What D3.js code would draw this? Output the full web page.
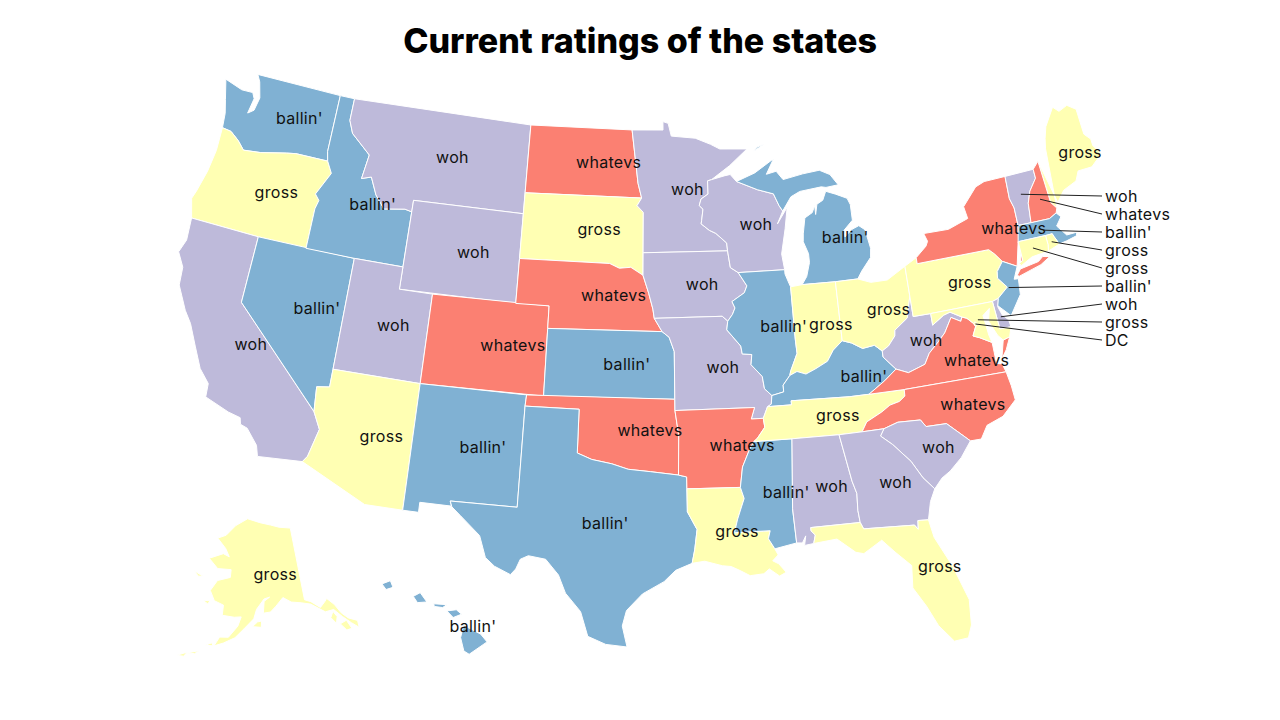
<!DOCTYPE html>
<html>
<head>
<meta charset="utf-8">
<script src="https://cdn.jsdelivr.net/npm/d3@7"></script>
<style>
  html, body { margin: 0; background: #fff; }
  text { font-family: Inter, "Open Sans", sans-serif; fill: #111; }
</style>
</head>
<body>
<div id="chart"></div>
<script>
// ratings
const stateIds = ["WA","OR","CA","NV","ID","MT","WY","UT","AZ","CO","NM","ND","SD","NE","KS","OK","TX","MN","IA","MO","AR","LA","WI","IL","MS","MI","IN","KY","TN","AL","OH","WV","VA","NC","SC","GA","FL","PA","NY","ME","AK","HI","VT","NH","MA","RI","CT","NJ","DE","MD","DC"];
const stateRatings = ["ballin'","gross","woh","ballin'","ballin'","woh","woh","woh","gross","whatevs","ballin'","whatevs","gross","whatevs","ballin'","whatevs","ballin'","woh","woh","woh","whatevs","gross","woh","ballin'","ballin'","ballin'","gross","ballin'","gross","woh","gross","woh","whatevs","whatevs","woh","woh","gross","gross","whatevs","gross","gross","ballin'","woh","whatevs","ballin'","gross","gross","ballin'","woh","gross","gross"];
const ratingNames = ["ballin'","gross","woh","whatevs"];
const ratingColors = ["#80b1d3","#ffffb3","#bebada","#fb8072"];
// states too small for a label inside, labelled in a column on the right
const calloutStates = ["VT","NH","MA","RI","CT","NJ","DE","MD","DC"];
const calloutLabels = ["woh","whatevs","ballin'","gross","gross","ballin'","woh","gross","DC"];

// shared borders, lon/lat
const mnWi = [[-92.02,46.71],[-92.29,46.66],[-92.29,46.07],[-92.75,45.86],[-92.88,45.57],[-92.65,45.4],[-92.76,44.9],[-92.8,44.75],[-92.3,44.45],[-91.9,44.3],[-91.25,43.85],[-91.22,43.5]];
const iaWi = [[-91.22,43.5],[-91.1,42.75],[-90.64,42.51]];
const iaIl = [[-90.64,42.51],[-90.16,41.9],[-90.34,41.6],[-91.11,41.24],[-90.95,40.95],[-91.12,40.67],[-91.42,40.38]];
const moIl = [[-91.42,40.38],[-91.5,40.0],[-90.73,39.25],[-90.67,38.9],[-90.12,38.85],[-90.2,38.4],[-89.6,37.85],[-89.52,37.3],[-89.13,36.98]];
const kyMo = [[-89.13,36.98],[-89.2,36.6],[-89.42,36.5]];
const tnMo = [[-89.42,36.5],[-89.7,36.0]];
const tnAr = [[-89.7,36.0],[-89.65,35.6],[-90.1,35.13],[-90.3,35.0]];
const msAr = [[-90.3,35.0],[-90.6,34.6],[-91.0,33.9],[-91.17,33.0]];
const laMs = [[-91.17,33.0],[-91.0,32.5],[-91.4,31.6],[-91.6,31.0],[-89.73,31.0],[-89.85,30.65],[-89.55,30.18]];
const ilKy = [[-89.13,36.98],[-88.45,37.1],[-88.45,37.4],[-88.03,37.8]];
const inIl = [[-87.53,41.71],[-87.53,39.35],[-87.5,38.75],[-87.95,38.0],[-88.03,37.8]];
const inKy = [[-88.03,37.8],[-87.6,37.95],[-87.1,37.8],[-86.5,38.0],[-85.8,38.27],[-85.4,38.73],[-84.82,39.1]];
const ohKy = [[-84.82,39.1],[-84.3,38.95],[-83.7,38.65],[-83.0,38.72],[-82.6,38.42]];
const ohWv = [[-82.6,38.42],[-82.2,38.6],[-81.75,39.0],[-81.7,39.25],[-80.87,39.7],[-80.52,40.64]];
const kyWv = [[-81.97,37.54],[-82.6,38.15],[-82.6,38.42]];
const kyVa = [[-83.68,36.6],[-82.7,37.1],[-81.97,37.54]];
const kyTn = [[-89.42,36.5],[-88.07,36.5],[-88.07,36.68],[-84.8,36.6],[-83.68,36.6]];
const tnVa = [[-83.68,36.6],[-81.68,36.59]];
const tnNc = [[-81.68,36.59],[-81.7,36.3],[-82.05,36.1],[-82.6,36.0],[-83.1,35.75],[-84.0,35.4],[-84.32,34.99]];
const tnGa = [[-84.32,34.99],[-85.6,34.98]];
const tnAl = [[-85.6,34.98],[-88.2,35.0]];
const tnMs = [[-88.2,35.0],[-90.3,35.0]];
const alGa = [[-85.6,34.98],[-85.18,32.87],[-85.0,32.3],[-85.05,31.55],[-85.0,31.0]];
const alFl = [[-85.0,31.0],[-87.6,31.0],[-87.6,30.85],[-87.4,30.65],[-87.52,30.28]];
const alMs = [[-88.2,35.0],[-88.47,31.9],[-88.4,30.37]];
const gaFl = [[-85.0,31.0],[-84.86,30.7],[-82.21,30.57],[-82.05,30.36],[-82.0,30.75],[-81.45,30.71]];
const gaNc = [[-84.32,34.99],[-83.11,35.0]];
const gaSc = [[-83.11,35.0],[-83.35,34.7],[-82.75,34.25],[-81.9,33.4],[-81.4,32.6],[-80.87,32.03]];
const scNc = [[-83.11,35.0],[-82.3,35.2],[-81.05,35.15],[-80.8,34.82],[-79.67,34.8],[-78.55,33.86]];
const ncVa = [[-81.68,36.59],[-75.87,36.55]];
const vaWv = [[-81.97,37.54],[-81.3,37.3],[-80.3,37.55],[-79.95,38.0],[-79.3,38.45],[-78.87,38.77],[-78.35,39.39],[-77.83,39.14],[-77.72,39.32]];
const potomac = [[-77.72,39.32],[-77.45,39.22],[-77.12,38.93],[-77.04,38.79],[-77.3,38.4],[-76.95,38.27],[-76.3,37.95]];
const mdWv = [[-77.72,39.32],[-78.35,39.63],[-78.75,39.55],[-79.48,39.2],[-79.48,39.72]];
const mdPa = [[-79.48,39.72],[-75.79,39.72]];
const mdDe = [[-75.79,39.72],[-75.7,38.46],[-75.05,38.45]];
const moKs = [[-95.31,40.0],[-94.9,39.75],[-94.61,39.11],[-94.62,37.0]];
const neIa = [[-96.45,42.5],[-96.1,41.7],[-95.85,41.0],[-95.77,40.59],[-95.31,40.0]];
const sdNe = [[-104.05,43.0],[-98.5,43.0],[-97.9,42.8],[-97.2,42.85],[-96.45,42.5]];
const mnDk = [[-97.23,49.0],[-96.8,46.6],[-96.56,45.94],[-96.85,45.6],[-96.45,45.3],[-96.45,43.5]];
const txOk = [[-100.0,34.56],[-99.2,34.3],[-98.1,34.13],[-97.2,33.9],[-96.0,33.8],[-94.48,33.64]];
const txLa = [[-94.04,33.02],[-94.04,32.0],[-93.55,31.2],[-93.7,30.3],[-93.85,29.7]];
const idMt = [[-116.05,49.0],[-116.05,48.0],[-115.7,47.45],[-114.35,46.65],[-114.55,45.55],[-113.95,45.7],[-113.45,44.95],[-112.8,44.4],[-111.5,44.55],[-111.05,44.48]];
const idOr = [[-117.03,42.0],[-117.03,43.8],[-116.9,44.2],[-117.2,44.45],[-116.5,45.5],[-116.9,46.0]];
const orWa = [[-116.9,46.0],[-119.0,46.0],[-119.6,45.92],[-121.2,45.65],[-122.3,45.55],[-122.8,45.9],[-123.4,46.2],[-124.0,46.25]];
const azCa = [[-114.63,35.0],[-114.15,34.27],[-114.5,33.0],[-114.72,32.72]];
const azNv = [[-114.04,37.0],[-114.04,36.2],[-114.75,36.1],[-114.63,35.0]];
const nyVt = [[-73.34,45.01],[-73.4,44.0],[-73.25,43.55],[-73.27,42.75]];
const vtNh = [[-71.5,45.01],[-71.5,44.6],[-72.05,44.1],[-72.33,43.6],[-72.46,42.73]];
const nhMe = [[-71.08,45.3],[-70.98,43.38],[-70.7,43.07]];
const nyPa = [[-79.76,42.0],[-75.35,42.0],[-75.05,41.75],[-74.7,41.36]];
const njPa = [[-74.7,41.36],[-75.13,40.97],[-75.2,40.68],[-74.75,40.2],[-75.42,39.8]];
const ctNy = [[-73.5,42.05],[-73.49,41.2],[-73.73,41.1],[-73.65,40.98]];
const ctMa = [[-73.5,42.05],[-71.8,42.02]];
const ctRi = [[-71.8,42.02],[-71.79,41.6],[-71.86,41.32]];
const maRi = [[-71.8,42.02],[-71.38,42.02],[-71.33,41.9],[-71.12,41.5]];

const rev = a => a.slice().reverse();

// state outlines as lists of rings, lon/lat
const stateRings = {
  WA: [[...rev(orWa), [-117.04,46.42],[-117.03,49.0],[-122.76,49.0],[-122.5,48.7],[-122.2,48.0],[-122.35,47.4],[-122.7,47.2],[-122.55,47.9],[-122.75,48.15],[-123.5,48.13],[-124.72,48.38],[-124.35,47.5],[-124.1,46.9]]],
  OR: [[...orWa, [-123.95,45.2],[-124.1,44.2],[-124.4,43.2],[-124.55,42.84],[-124.2,42.0],[-120.0,42.0], ...idOr]],
  CA: [[[-124.2,42.0],[-120.0,42.0],[-120.0,39.0], ...azCa, [-117.12,32.53],[-117.3,33.0],[-118.0,33.65],[-118.4,33.75],[-118.5,34.03],[-119.2,34.15],[-120.6,34.55],[-120.65,35.15],[-121.3,35.7],[-121.9,36.6],[-122.5,37.5],[-123.0,38.0],[-123.75,39.0],[-123.85,39.8],[-124.35,40.4],[-124.1,41.0]]],
  NV: [[[-120.0,42.0],[-114.04,42.0], ...azNv, [-120.0,39.0]]],
  ID: [[[-117.03,49.0], ...idMt, [-111.05,42.0],[-114.04,42.0], ...idOr, [-117.04,46.42]]],
  MT: [[...idMt, [-111.05,45.0],[-104.05,45.0],[-104.05,49.0]]],
  WY: [[[-111.05,45.0],[-104.05,45.0],[-104.05,41.0],[-111.05,41.0]]],
  UT: [[[-114.04,42.0],[-111.05,42.0],[-111.05,41.0],[-109.05,41.0],[-109.05,37.0],[-114.04,37.0]]],
  AZ: [[...azNv, ...azCa, [-111.07,31.33],[-109.05,31.33],[-109.05,37.0]]],
  CO: [[[-109.05,41.0],[-102.05,41.0],[-102.04,37.0],[-109.05,37.0]]],
  NM: [[[-109.05,37.0],[-103.0,37.0],[-103.04,36.5],[-103.06,32.0],[-106.62,32.0],[-106.53,31.78],[-108.21,31.78],[-108.21,31.33],[-109.05,31.33]]],
  ND: [[[-104.05,49.0],[-97.23,49.0],[-96.8,46.6],[-96.56,45.94],[-104.05,45.94]]],
  SD: [[[-104.05,45.94],[-96.56,45.94],[-96.85,45.6],[-96.45,45.3],[-96.45,43.5], ...rev(sdNe)]],
  NE: [[...sdNe, ...neIa.slice(1), [-102.05,40.0],[-102.05,41.0],[-104.05,41.0]]],
  KS: [[[-102.05,40.0], ...moKs, [-102.04,37.0]]],
  OK: [[[-103.0,37.0],[-94.62,37.0],[-94.62,36.5],[-94.43,35.39], ...rev(txOk), [-100.0,36.5],[-103.04,36.5]]],
  TX: [[[-106.62,32.0],[-103.06,32.0],[-103.04,36.5],[-100.0,36.5], ...txOk, [-94.04,33.55], ...txLa, [-94.7,29.4],[-95.3,28.9],[-96.4,28.35],[-97.2,27.6],[-97.4,26.9],[-97.15,25.96],[-98.2,26.06],[-99.1,26.4],[-99.5,27.5],[-100.3,28.3],[-100.7,29.1],[-101.4,29.77],[-102.3,29.88],[-102.7,29.7],[-102.9,29.25],[-103.15,28.98],[-104.0,29.3],[-104.5,29.65],[-104.9,30.6],[-106.0,31.4],[-106.5,31.75]]],
  MN: [[[-97.23,49.0],[-95.15,49.0],[-95.15,49.38],[-94.8,49.3],[-94.6,48.72],[-93.0,48.6],[-92.0,48.3],[-91.4,48.07],[-89.6,48.0],[-90.8,47.3], ...mnWi, ...rev(mnDk)]],
  IA: [[[-96.45,43.5], ...iaWi, ...iaIl, [-91.73,40.61],[-95.77,40.59],[-95.85,41.0],[-96.1,41.7],[-96.45,42.5]]],
  MO: [[...moIl, ...kyMo, ...tnMo, [-90.37,36.0],[-90.15,36.5],[-94.62,36.5], ...rev(moKs), [-95.77,40.59],[-91.73,40.61]]],
  AR: [[[-94.62,36.5],[-94.43,35.39],[-94.48,33.64],[-94.04,33.55],[-94.04,33.02], ...rev(msAr), ...rev(tnAr), [-90.37,36.0],[-90.15,36.5]]],
  LA: [[...txLa, [-93.2,29.78],[-92.3,29.55],[-91.85,29.5],[-91.4,29.3],[-90.9,29.05],[-90.2,29.1],[-89.9,29.3],[-89.4,28.95],[-89.05,29.1],[-89.4,29.5],[-89.7,29.65],[-89.4,29.9], ...rev(laMs)]],
  WI: [[...mnWi, ...iaWi, [-87.8,42.49],[-87.9,43.2],[-87.55,44.3],[-87.3,45.25],[-88.0,44.55],[-87.6,45.1],[-87.8,45.35],[-88.1,45.9],[-89.1,46.14],[-90.42,46.57],[-90.8,46.9],[-91.2,46.85]]],
  IL: [[...inIl, ...rev(ilKy), ...rev(moIl), ...rev(iaIl), [-87.8,42.49],[-87.8,42.3],[-87.6,41.85]]],
  MS: [[...rev(tnMs), ...alMs, ...rev(laMs), ...rev(msAr)]],
  MI: [
    [[-86.82,41.76],[-84.81,41.73],[-83.45,41.73],[-83.15,42.05],[-82.5,42.6],[-82.42,43.0],[-82.6,43.85],[-82.95,44.07],[-83.4,43.95],[-83.9,43.65],[-83.9,43.95],[-83.3,44.35],[-83.3,45.05],[-83.45,45.35],[-84.15,45.6],[-84.75,45.78],[-85.0,45.4],[-85.4,45.25],[-85.55,44.8],[-85.55,45.2],[-85.75,44.9],[-86.25,44.7],[-86.45,44.0],[-86.5,43.65],[-86.25,43.1],[-86.25,42.7],[-86.5,42.1]],
    [[-90.42,46.57],[-89.1,46.14],[-88.1,45.9],[-87.8,45.35],[-87.6,45.1],[-87.0,45.7],[-86.4,45.9],[-85.0,46.0],[-84.7,45.95],[-83.9,46.0],[-84.35,46.5],[-85.0,46.75],[-86.1,46.67],[-87.4,46.5],[-87.8,46.9],[-88.45,46.8],[-87.9,47.47],[-89.2,46.9]],
    [[-89.2,47.85],[-88.45,48.17],[-88.9,48.05]]
  ],
  IN: [[[-87.53,41.71],[-86.82,41.76],[-84.81,41.73], ...rev(inKy), ...rev(inIl)]],
  KY: [[...kyTn, ...kyVa, ...kyWv, ...rev(ohKy), ...rev(inKy), ...rev(ilKy), ...kyMo]],
  TN: [[...kyTn, ...tnVa, ...tnNc, ...tnGa, ...tnAl, ...tnMs, ...rev(tnAr), ...rev(tnMo)]],
  AL: [[...alGa, ...alFl, [-88.0,30.23],[-87.9,30.65],[-88.1,30.35], ...rev(alMs), ...rev(tnAl)]],
  OH: [[...ohKy, ...ohWv, [-80.52,41.98],[-81.7,41.5],[-82.7,41.5],[-83.45,41.73],[-84.81,41.73]]],
  WV: [[...rev(ohWv), ...rev(kyWv), ...vaWv, ...mdWv, [-80.52,39.72]]],
  VA: [
    [...kyVa, ...vaWv, ...potomac, [-76.3,37.5],[-76.3,37.0],[-76.0,36.93], ...rev(ncVa), ...rev(tnVa)],
    [[-75.95,37.15],[-75.65,37.95],[-75.25,38.03],[-75.6,37.5]]
  ],
  NC: [[...tnNc, ...gaNc, ...scNc, [-77.95,33.85],[-77.5,34.4],[-76.55,34.65],[-75.7,35.25],[-75.75,35.9], ...rev(ncVa)]],
  SC: [[...gaSc, [-80.4,32.45],[-79.9,32.7],[-79.2,33.2], ...rev(scNc)]],
  GA: [[...rev(tnGa), ...gaNc, ...gaSc, [-81.2,31.5], ...rev(gaFl), ...rev(alGa)]],
  FL: [[...gaFl, [-81.3,29.9],[-80.6,28.5],[-80.05,26.9],[-80.15,25.75],[-80.4,25.2],[-81.1,25.15],[-81.75,25.95],[-82.2,26.9],[-82.75,27.8],[-82.65,28.8],[-83.4,29.5],[-84.0,30.1],[-85.0,29.6],[-85.4,29.7],[-86.3,30.38], ...rev(alFl)]],
  PA: [[[-80.52,40.64],[-80.52,41.98],[-79.76,42.27], ...nyPa, ...njPa, ...rev(mdPa), [-80.52,39.72]]],
  NY: [
    [[-79.76,42.27],[-79.05,42.7],[-78.9,42.9],[-79.05,43.27],[-77.5,43.25],[-76.2,43.55],[-76.3,44.1],[-75.3,44.85],[-74.7,45.0], ...nyVt, ...rev(ctNy), [-73.9,41.0], ...rev(nyPa)],
    [[-74.03,40.6],[-73.75,40.85],[-72.6,40.98],[-72.28,41.15],[-71.87,41.07],[-72.5,40.82],[-73.9,40.55]]
  ],
  ME: [[...rev(nhMe), [-70.55,43.3],[-70.0,43.75],[-69.1,44.0],[-68.8,44.4],[-67.9,44.4],[-67.1,44.83],[-67.45,45.3],[-67.45,45.6],[-67.78,45.9],[-67.79,47.07],[-68.3,47.36],[-68.9,47.2],[-69.23,47.46],[-70.0,46.7],[-70.25,46.2],[-70.4,45.75]]],
  VT: [[...nyVt, ...rev(vtNh)]],
  NH: [[...vtNh, [-71.3,42.7],[-70.82,42.87], ...rev(nhMe)]],
  MA: [[...ctMa, ...maRi, [-70.65,41.55],[-70.0,41.65],[-69.95,41.75],[-70.2,42.07],[-70.0,41.8],[-70.55,41.8],[-71.0,42.3],[-70.6,42.65],[-70.82,42.87],[-71.3,42.7],[-72.46,42.73],[-73.27,42.75]]],
  RI: [[...rev(ctRi), ...maRi.slice(1)]],
  CT: [[...ctMa, ...ctRi, [-72.9,41.25], ...rev(ctNy).slice(0,-1)]],
  NJ: [[...rev(njPa), [-73.9,41.0],[-74.25,40.47],[-74.0,40.45],[-74.1,39.75],[-74.9,38.93],[-75.55,39.5]]],
  DE: [[...mdDe, [-75.1,38.78],[-75.4,39.05],[-75.55,39.45],[-75.42,39.8]]],
  MD: [[...rev(potomac), ...mdWv, ...mdPa, ...mdDe, [-75.25,38.03],[-75.65,37.95],[-75.9,38.2],[-76.25,38.9],[-76.05,39.45],[-76.5,39.2],[-76.45,38.8],[-76.4,38.3]]],
  DC: [[[-77.12,38.93],[-77.04,39.0],[-76.91,38.89],[-77.04,38.79]]],
  AK: [
    [[-141,69.65],[-141,60.3],[-139.5,59.9],[-137.5,58.9],[-136,59.5],[-135.4,59.8],[-134,58.8],[-133,57.5],[-131.8,56.6],[-130,55.9],[-130.2,55],[-131.5,55.9],[-133,57],[-134.5,58.2],[-136.6,58.2],[-139.7,59.6],[-142,60],[-144.5,60.3],[-146.5,61],[-148.5,60],[-150,59.3],[-151.8,59.2],[-151.5,60.7],[-150,61.2],[-151.5,61],[-153.5,59.7],[-154.2,58.5],[-156.5,57.2],[-158.5,56],[-161,55.2],[-163,54.7],[-162,55.9],[-160,56],[-158,57.5],[-157.3,58.7],[-159,58.6],[-162,58.7],[-162,60],[-164.5,60.4],[-166,61.6],[-164.5,63],[-161,63.6],[-161,64.6],[-165,64.5],[-168.1,65.6],[-164,66.5],[-162,66.2],[-163.5,67.2],[-166.7,68.35],[-164,68.9],[-161,70.3],[-156.7,71.3],[-152,70.8],[-148,70.4],[-145,70]],
    [[-154.5,57.5],[-152.4,57.4],[-152.3,58.2],[-153.3,58.1]],
    [[-135.7,57.3],[-134.8,58.0],[-134.2,57.2],[-134.8,56.4]],
    [[-134,56.2],[-133,55.2],[-131.8,55.2],[-132.4,56.4]],
    [[-164.9,54.6],[-163.2,54.7],[-163.6,55.05]],
    [[-168.5,53.2],[-166,53.8],[-166.9,53.3]],
    [[-170.5,52.6],[-168.5,53.3],[-169,52.7]],
    [[-171.7,63.6],[-168.8,63.2],[-170,63.05]],
    [[-167.4,60.2],[-165.6,60.3],[-166,59.85]]
  ],
  HI: [
    [[-155.9,20.25],[-155.1,19.85],[-154.8,19.5],[-155.65,18.95],[-155.9,19.1],[-156.05,19.7]],
    [[-156.7,20.9],[-156.25,20.95],[-156.0,20.75],[-156.4,20.6]],
    [[-157.32,21.22],[-156.7,21.18],[-156.9,21.05],[-157.3,21.1]],
    [[-158.3,21.55],[-157.97,21.72],[-157.65,21.3],[-158.1,21.27]],
    [[-159.8,22.1],[-159.4,22.25],[-159.27,21.95],[-159.6,21.85]]
  ]
};

const width = 1280, height = 720;

// centroid doesn't sit well for these, shift by hand (px)
const labelNudge = {ME: [-4, 6], MI: [7, 12], KY: [8, 0], FL: [9, -2], LA: [-7, -2], NC: [-6, -1], NY: [6, 0], TN: [-3, -1]};

// d3 wants the small side of each ring inside
const fixRing = r => {
  const closed = [...r, r[0]];
  return d3.geoArea({type: "Polygon", coordinates: [closed]}) > 2 * Math.PI ? rev(closed) : closed;
};
const features = stateIds.map((id, i) => ({
  type: "Feature",
  id,
  rating: stateRatings[i],
  geometry: {type: "MultiPolygon", coordinates: stateRings[id].map(r => [fixRing(r)])}
}));

const color = d3.scaleOrdinal(ratingNames, ratingColors);
const projection = d3.geoAlbersUsa().scale(1282).translate([640, 361]);
const path = d3.geoPath(projection);
const calloutY = d3.scalePoint(calloutStates, [196, 340]);

const svg = d3.select("#chart").append("svg")
  .attr("width", width)
  .attr("height", height)
  .attr("viewBox", [0, 0, width, height]);

svg.append("text")
  .attr("x", width / 2)
  .attr("y", 53)
  .attr("text-anchor", "middle")
  .attr("font-size", 34)
  .attr("font-weight", 800)
  .style("fill", "#000")
  .text("Current ratings of the states");

svg.append("g").selectAll("path")
  .data(features)
  .join("path")
  .attr("d", path)
  .attr("fill", d => color(d.rating))
  .attr("stroke", "#fff")
  .attr("stroke-width", 1);

// labels on the big states start a little left of the centroid
svg.append("g").selectAll("text")
  .data(features.filter(d => !calloutStates.includes(d.id)))
  .join("text")
  .attr("transform", d => {
    const [x, y] = path.centroid(d);
    const [nx, ny] = labelNudge[d.id] || [0, 0];
    return `translate(${x + nx},${y + ny})`;
  })
  .attr("dx", -6)
  .attr("dy", "0.35em")
  .attr("font-size", 16)
  .attr("letter-spacing", 0.3)
  .text(d => d.rating);

// leader lines for the small ones
const byId = new Map(features.map(d => [d.id, d]));
svg.append("g").selectAll("line")
  .data(calloutStates)
  .join("line")
  .attr("x1", d => path.centroid(byId.get(d))[0])
  .attr("y1", d => path.centroid(byId.get(d))[1])
  .attr("x2", 1102)
  .attr("y2", d => calloutY(d))
  .attr("stroke", "#222")
  .attr("stroke-width", 1);

svg.append("g").selectAll("text")
  .data(calloutStates)
  .join("text")
  .attr("x", 1105)
  .attr("y", d => calloutY(d))
  .attr("dy", "0.35em")
  .attr("font-size", 16)
  .attr("letter-spacing", 0.3)
  .text((d, i) => calloutLabels[i]);
</script>
</body>
</html>
